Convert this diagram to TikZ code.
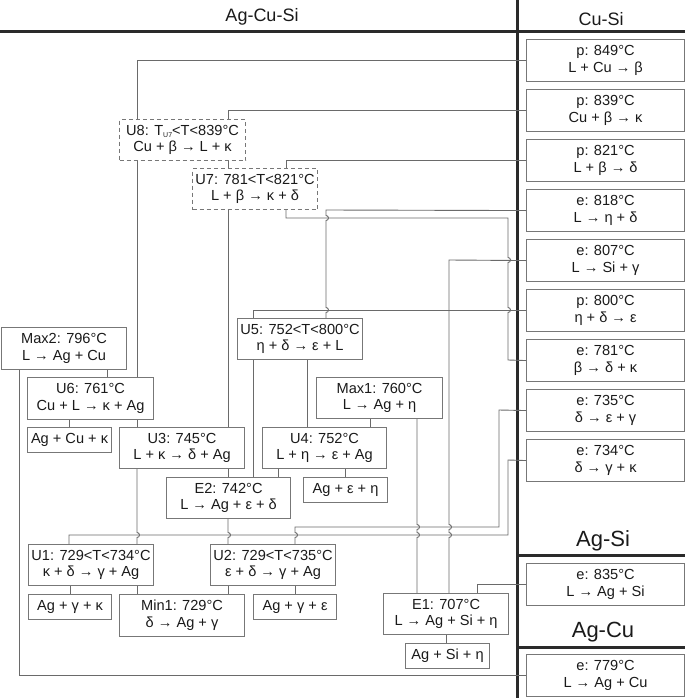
\documentclass[tikz,border=0pt]{standalone}
\usepackage{fontspec}
\setmainfont{Liberation Sans}
\definecolor{txtc}{HTML}{1A1A1A}
\definecolor{boxc}{HTML}{777777}
\definecolor{linec}{HTML}{6A6A6A}
\definecolor{framec}{HTML}{2A2A2A}
\tikzset{
 box/.style={draw=boxc, line width=1.1pt, inner sep=0pt, align=center, text=txtc,
   font=\fontsize{14.6}{16.7}\selectfont, anchor=north west},
 dbox/.style={box, dash pattern=on 4pt off 3pt},
 conn/.style={draw=linec, line width=0.9pt},
 hop/.style={insert path={arc[start angle=90,end angle=-90,radius=2.5pt]}},
 framel/.style={draw=framec, line width=3pt},
 hdr/.style={text=txtc, font=\fontsize{18}{18}\selectfont, inner sep=0pt},
 hdrb/.style={text=txtc, font=\fontsize{22}{22}\selectfont, inner sep=0pt},
}
\newcommand\bx[6]{\node[box,minimum width=#4pt,minimum height=#5pt] (#1) at (#2,#3) {#6};}
\newcommand\subu{\raisebox{-2.5pt}{\fontsize{7}{7}\selectfont U7}}
\begin{document}
\begin{tikzpicture}[x=1pt,y=-1pt]
\useasboundingbox (0,0) rectangle (685,698);
% frame
\draw[framel] (0,32) -- (685,32);
\draw[framel] (517,0) -- (517,698);
\draw[framel] (517,555) -- (685,555);
\draw[framel] (517,647) -- (685,647);
\node[hdr] (tACS) at (262,17) {Ag-Cu-Si};
\node[hdr] (tCS) at (601,19) {Cu-Si};
\node[hdrb] (tAS) at (603,541) {Ag-Si};
\node[hdrb] (tAC) at (603,632) {Ag-Cu};
% binary boxes
\bx{p849}{526}{39}{158}{42}{p: 849°C\\L + Cu → β}
\bx{p839}{526}{89}{158}{42}{p: 839°C\\Cu + β → κ}
\bx{p821}{526}{139}{158}{42}{p: 821°C\\L + β → δ}
\bx{e818}{526}{189}{158}{42}{e: 818°C\\L → η + δ}
\bx{e807}{526}{239}{158}{42}{e: 807°C\\L → Si + γ}
\bx{p800}{526}{289}{158}{42}{p: 800°C\\η + δ → ε}
\bx{e781}{526}{339}{158}{42}{e: 781°C\\β → δ + κ}
\bx{e735}{526}{389}{158}{42}{e: 735°C\\δ → ε + γ}
\bx{e734}{526}{439}{158}{42}{e: 734°C\\δ → γ + κ}
\bx{e835}{526}{563}{158}{42}{e: 835°C\\L → Ag + Si}
\bx{e779}{526}{654}{158}{42}{e: 779°C\\L → Ag + Cu}
% ternary boxes
\node[dbox,minimum width=126pt,minimum height=41pt] (U8) at (119,119) {U8: T\subu<T<839°C\\Cu + β → L + κ};
\node[dbox,minimum width=125pt,minimum height=41pt] (U7) at (192,168) {U7: 781<T<821°C\\L + β → κ + δ};
\bx{Max2}{1}{327}{125}{42}{Max2: 796°C\\L → Ag + Cu}
\bx{U5}{237}{318}{125}{41}{U5: 752<T<800°C\\η + δ → ε + L}
\bx{U6}{27}{377}{126}{42}{U6: 761°C\\Cu + L → κ + Ag}
\bx{Max1}{316}{377}{126}{41}{Max1: 760°C\\L → Ag + η}
\bx{U3}{119}{427}{125}{41}{U3: 745°C\\L + κ → δ + Ag}
\bx{U4}{262}{427}{124}{41}{U4: 752°C\\L + η → ε + Ag}
\bx{AgCuK}{27}{427}{84}{25}{Ag + Cu + κ}
\bx{E2}{166}{477}{124}{41}{E2: 742°C\\L → Ag + ε + δ}
\bx{AgEpsEta}{303}{477}{84}{25}{Ag + ε + η}
\bx{U1}{28}{544}{125}{41}{U1: 729<T<734°C\\κ + δ → γ + Ag}
\bx{U2}{210}{544}{125}{41}{U2: 729<T<735°C\\ε + δ → γ + Ag}
\bx{AgGamK}{28}{594}{83}{25}{Ag + γ + κ}
\bx{Min1}{119}{594}{125}{42}{Min1: 729°C\\δ → Ag + γ}
\bx{AgGamEps}{253}{594}{83}{25}{Ag + γ + ε}
\bx{E1}{383}{593}{125}{41}{E1: 707°C\\L → Ag + Si + η}
\bx{AgSiEta}{405}{643}{84}{25}{Ag + Si + η}
% connectors
\draw[conn] (p849.west) -| ([xshift=18pt]U8.north west);
\draw[conn] (p839.west) -| ([xshift=109pt]U8.north west);
\draw[conn] ([xshift=109pt]U8.south west) -- ([xshift=36pt]U7.north west);
\draw[conn] (p821.west) -| ([xshift=94pt]U7.north west);
\draw[conn] ([xshift=18pt]U8.south west) -- ([xshift=110pt]U6.north west);
\draw[conn] (e818.west) -- (326,210) -- (326,215.5) [hop] -- (326,307.5) [hop] -- ([xshift=89pt]U5.north west);
\draw[conn] ([xshift=94pt]U7.south west) -- (286,218) -- (508,218) -- (508,257.5) [hop] -- (508,307.5) [hop] -- (508,360) -- (e781.west);
\draw[conn] (e807.west) -- (449,260) -- (449,524.5) [hop] -- (449,532.5) [hop] -- ([xshift=66pt]E1.north west);
\draw[conn] (p800.west) -| ([xshift=16pt]U5.north west);
\draw[conn] ([xshift=16pt]U5.south west) -- ([xshift=87pt]E2.north west);
\draw[conn] ([xshift=70pt]U5.south west) -- ([xshift=45pt]U4.north west);
\draw[conn] ([xshift=54pt]Max1.south west) -- ([xshift=108pt]U4.north west);
\draw[conn] ([xshift=101pt]Max1.south west) -- (417,524.5) [hop] -- (417,532.5) [hop] -- ([xshift=34pt]E1.north west);
\draw[conn] (AgCuK.north |- U6.south) -- (AgCuK.north);
\draw[conn] ([xshift=110pt]U6.south west) -- ([xshift=18pt]U3.north west);
\draw[conn] ([xshift=106pt]Max2.south west) -- ([xshift=80pt]U6.north west);
\draw[conn] ([xshift=18pt]Max2.south west) |- (e779.west);
\draw[conn] ([xshift=36pt]U7.south west) -- ([xshift=109pt]U3.north west);
\draw[conn] ([xshift=109pt]U3.south west) -- ([xshift=62pt]E2.north west);
\draw[conn] ([xshift=18pt]U3.south west) -- (137,532.5) [hop] -- ([xshift=109pt]U1.north west);
\draw[conn] ([xshift=16pt]U4.south west) -- ([xshift=112pt]E2.north west);
\draw[conn] (AgEpsEta.north |- U4.south) -- (AgEpsEta.north);
\draw[conn] ([xshift=62pt]E2.south west) -- (228,532.5) [hop] -- ([xshift=18pt]U2.north west);
\draw[conn] (e735.west) -- (499,410) -- (499,527) -- (295,527) -- (295,532.5) [hop] -- ([xshift=85pt]U2.north west);
\draw[conn] (e734.west) -- (508,460) -- (508,535) -- (69,535) -- ([xshift=41pt]U1.north west);
\draw[conn] (AgGamK.north |- U1.south) -- (AgGamK.north);
\draw[conn] ([xshift=109pt]U1.south west) -- ([xshift=18pt]Min1.north west);
\draw[conn] ([xshift=18pt]U2.south west) -- ([xshift=109pt]Min1.north west);
\draw[conn] (AgGamEps.north |- U2.south) -- (AgGamEps.north);
\draw[conn] (e835.west) -| ([xshift=94pt]E1.north west);
\draw[conn] (E1.south) -- (E1.south |- AgSiEta.north);
\end{tikzpicture}
\end{document}
